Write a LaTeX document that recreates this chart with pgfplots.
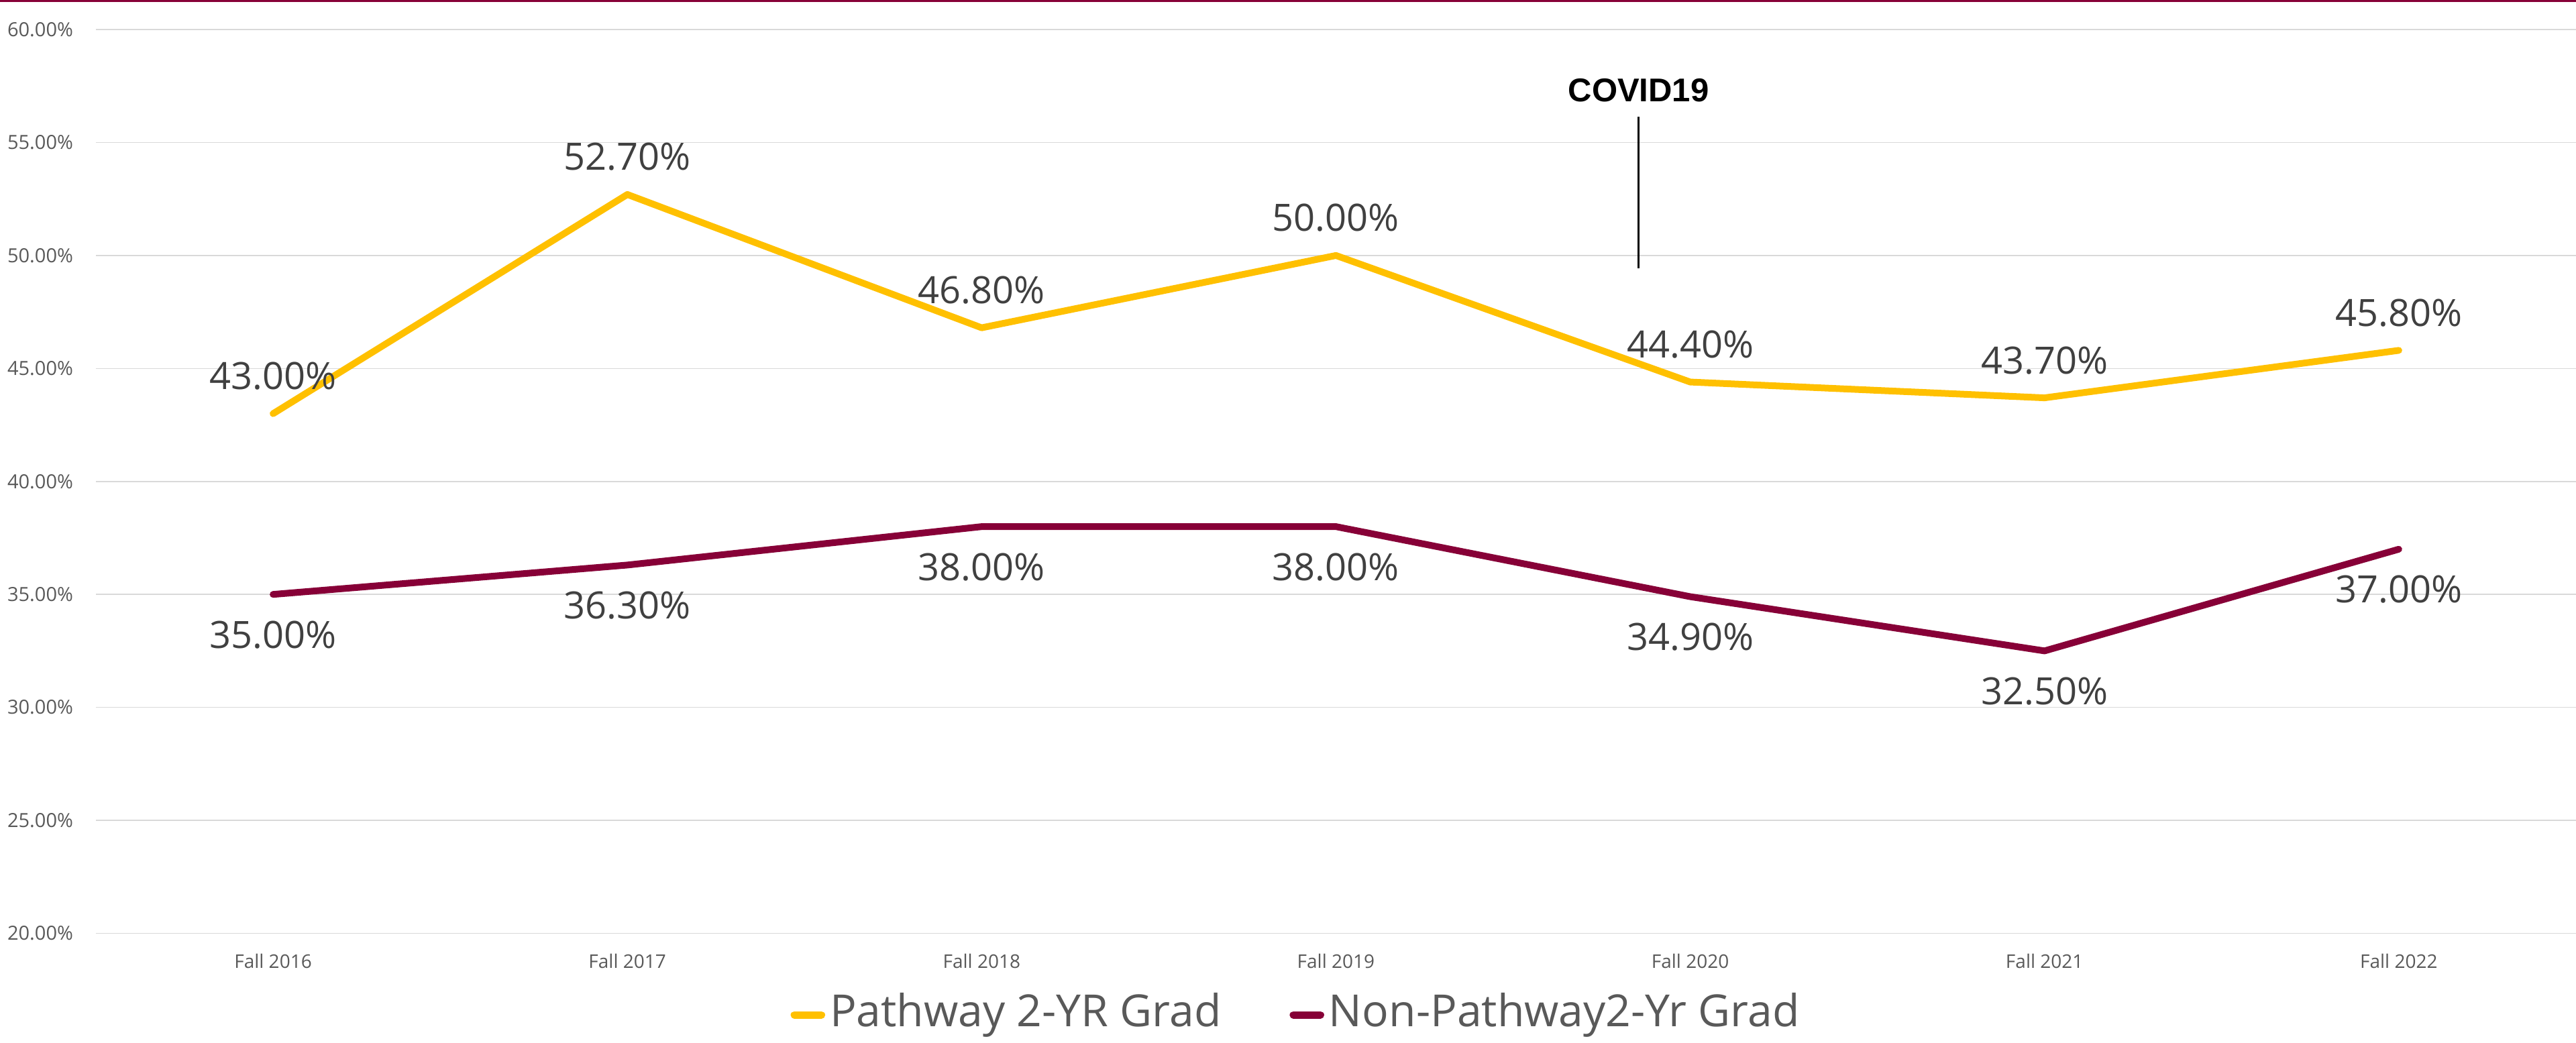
\documentclass[border=0pt]{standalone}
\usepackage{fontspec}
\setmainfont{Open Sans}
\newfontfamily\arialfont{Liberation Sans}
\usepackage{pgfplots}
\pgfplotsset{compat=1.18}
\definecolor{gold}{HTML}{FFC000}
\definecolor{maroon}{HTML}{870037}
\definecolor{gridc}{HTML}{D9D9D9}
\definecolor{tickc}{HTML}{595959}
\definecolor{lblc}{HTML}{404040}
\begin{document}
\begin{tikzpicture}[x=1pt,y=1pt]
\useasboundingbox (0,0) rectangle (384,155.5);
\fill[maroon] (0,155.22) rectangle (384,155.5);
\begin{axis}[
  at={(14.3pt,16.35pt)}, anchor=south west,
  scale only axis, width=369.7pt, height=134.75pt,
  xmin=-0.5, xmax=6.5, ymin=20, ymax=60,
  xtick={0,1,2,3,4,5,6},
  xticklabels={Fall 2016,Fall 2017,Fall 2018,Fall 2019,Fall 2020,Fall 2021,Fall 2022},
  ytick={20,25,30,35,40,45,50,55,60},
  ymajorgrids, grid style={gridc, line width=0.15pt},
  axis line style={draw=none},
  major tick length=0pt,
  clip=false,
  /pgf/number format/assume math mode=true,
  yticklabel={\pgfmathprintnumber[fixed,fixed zerofill,precision=2]{\tick}\%},
  yticklabel style={font=\fontsize{2.9}{3}\selectfont, text=tickc, anchor=east, inner sep=0pt, xshift=-3.2pt},
  xticklabel style={font=\fontsize{2.8}{3}\selectfont, text=tickc, anchor=base, inner sep=0pt, yshift=-5.25pt},
  nodes near coords={\pgfmathprintnumber[fixed,fixed zerofill,precision=2]{\pgfplotspointmeta}\%},
  every node near coord/.append style={font=\fontsize{5.6}{6}\selectfont, text=lblc, inner sep=0pt, anchor=base},
  legend columns=2,
  legend style={at={(0.4845,-0.0902)}, anchor=center, draw=none, fill=none,
    font=\fontsize{6.6}{7}\selectfont, text=tickc, inner sep=0pt,
    nodes={inner sep=0.7pt},
    /tikz/every even column/.append style={column sep=9.5pt}},
  legend cell align=left,
  legend image code/.code={\draw[line width=1.1pt, line cap=round] (0.55pt,0pt) -- (4.6pt,0pt);},
]
\addplot[gold, line width=1pt, line cap=round, line join=round,
  every node near coord/.append style={yshift=3.6pt}]
  coordinates {(0,43.0) (1,52.7) (2,46.8) (3,50.0) (4,44.4) (5,43.7) (6,45.8)};
\addlegendentry{Pathway 2-YR Grad}
\addplot[maroon, line width=1pt, line cap=round, line join=round,
  every node near coord/.append style={yshift=-8pt}]
  coordinates {(0,35.0) (1,36.3) (2,38.0) (3,38.0) (4,34.9) (5,32.5) (6,37.0)};
\addlegendentry{Non-Pathway2-Yr Grad}
\draw[black, line width=0.25pt] (axis cs:3.854,49.43) -- (axis cs:3.854,56.14);
\node[anchor=base, font=\arialfont\bfseries\fontsize{4.9}{5}\selectfont, inner sep=0pt] at (axis cs:3.854,56.82) {COVID19};
\end{axis}
\end{tikzpicture}
\end{document}
